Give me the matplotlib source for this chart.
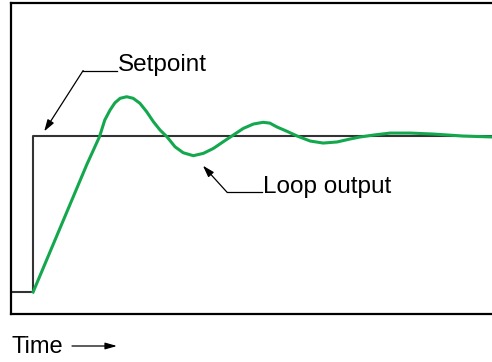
import matplotlib
matplotlib.use("Agg")
import matplotlib.pyplot as plt

plt.rcParams['font.family'] = ['Liberation Sans', 'DejaVu Sans']

# setpoint step (time, value)
setpoint_t = [0.0, 4.6, 4.6, 100.0]
setpoint_v = [0.0, 0.0, 1.0, 1.0]

# loop output
loop_t = [4.6, 15.8, 18.4, 19.5, 20.6, 21.6, 22.7, 24.05, 25.4, 26.8,
          28.2, 29.6, 31.0, 32.4, 34.1, 35.8, 37.9, 40.0, 42.1, 44.1,
          46.2, 48.3, 50.4, 52.4, 53.8, 55.3, 57.4, 59.5, 62.2, 64.9,
          67.8, 70.5, 72.6, 75.3, 78.8, 83.0, 87.7, 94.0, 100.0]
loop_v = [0.000, 0.820, 0.996, 1.103, 1.167, 1.213, 1.242, 1.252, 1.242, 1.210,
          1.156, 1.092, 1.038, 0.996, 0.931, 0.893, 0.874, 0.889, 0.921, 0.963,
          1.006, 1.049, 1.077, 1.088, 1.083, 1.058, 1.030, 1.000, 0.968, 0.955,
          0.962, 0.981, 0.994, 1.006, 1.019, 1.019, 1.013, 1.000, 0.994]

fig = plt.figure(figsize=(4.92, 3.62), dpi=100)
ax = fig.add_axes([11/492, 1 - 314/362, 1 - 11/492, 311/362])

ax.plot(setpoint_t, setpoint_v, color='#333333', lw=1.5)
ax.plot(loop_t, loop_v, color='#14a84e', lw=2.2, solid_joinstyle='round')

ax.set_xlim(0, 100)
ax.set_ylim(-0.141, 1.853)
ax.set_xticks([])
ax.set_yticks([])
ax.spines['right'].set_visible(False)
for s in ['left', 'top', 'bottom']:
    ax.spines[s].set_linewidth(1.6)

arrow = dict(arrowstyle='-|>,head_length=0.7,head_width=0.22', color='black',
             lw=0.9, shrinkA=0, shrinkB=0)

# Setpoint label
ax.plot([15.0, 22.0], [1.42, 1.42], color='black', lw=0.9)
ax.annotate('', xy=(6.9, 1.03), xytext=(15.0, 1.42), arrowprops=arrow)
ax.text(22.2, 1.417, 'Setpoint', fontsize=17.5, va='baseline', ha='left')

# Loop output label
ax.plot([44.9, 52.2], [0.64, 0.64], color='black', lw=0.9)
ax.annotate('', xy=(39.9, 0.81), xytext=(44.9, 0.64), arrowprops=arrow)
ax.text(52.4, 0.635, 'Loop output', fontsize=17.5, va='baseline', ha='left')

# Time axis label
fig.text(12/492, 1 - 353/362, 'Time', fontsize=17, va='baseline', ha='left')
fig.add_artist(matplotlib.patches.FancyArrowPatch(
    (72/492, 1 - 346/362), (117/492, 1 - 346/362), transform=fig.transFigure,
    arrowstyle='-|>,head_length=0.7,head_width=0.2', color='black', lw=0.9,
    mutation_scale=10, shrinkA=0, shrinkB=0))

fig.savefig('out.png', dpi=100)
